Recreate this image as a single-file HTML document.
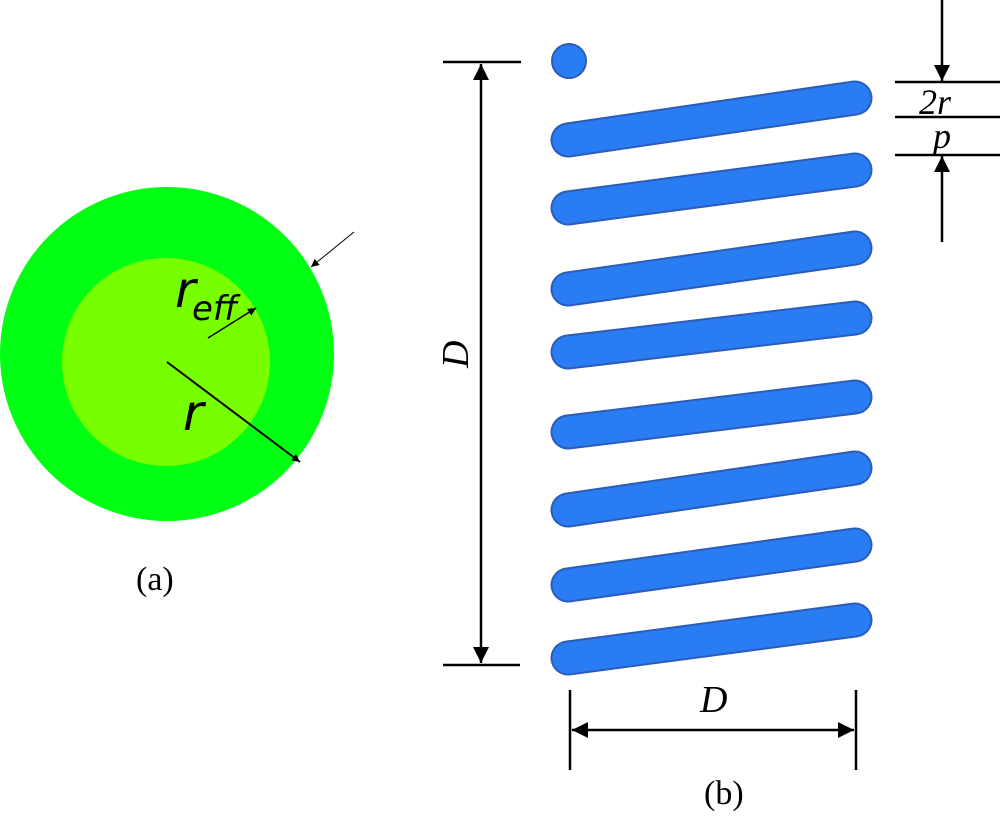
<!DOCTYPE html>
<html><head><style>body{margin:0;background:#fff}</style></head><body>
<svg width="1000" height="817" viewBox="0 0 1000 817" xmlns="http://www.w3.org/2000/svg" font-family="Liberation Serif, serif">
<defs><marker id="a" viewBox="0 0 10 10" refX="10" refY="5" markerWidth="10" markerHeight="8" orient="auto-start-reverse" markerUnits="userSpaceOnUse"><path d="M0,0L10,5L0,10z" fill="#000"/></marker>
<marker id="b" viewBox="0 0 10 10" refX="10" refY="5" markerWidth="28" markerHeight="16" orient="auto-start-reverse" markerUnits="userSpaceOnUse"><path d="M0,0L10,5L0,10z" fill="#000"/></marker></defs>
<circle cx="167" cy="354" r="167" fill="#00ff12"/>
<circle cx="166" cy="362" r="104" fill="#77ff00"/>
<line x1="167" y1="362" x2="300" y2="462" stroke="#000" stroke-width="2" marker-end="url(#a)"/>
<line x1="208" y1="338" x2="256" y2="308" stroke="#000" stroke-width="1.5" marker-end="url(#a)"/>
<line x1="354" y1="232" x2="311" y2="267" stroke="#000" stroke-width="1" marker-end="url(#a)"/>
<text x="175" y="307" font-family="DejaVu Sans, sans-serif" font-style="italic" font-size="50">r</text>
<text x="192" y="320" font-family="DejaVu Sans, sans-serif" font-style="italic" font-size="34">eff</text>
<text x="183" y="430" font-family="DejaVu Sans, sans-serif" font-style="italic" font-size="50">r</text>
<text x="136" y="590" font-size="34">(a)</text>
<g stroke="#2b5db8" stroke-width="35" stroke-linecap="round">
<line x1="568" y1="140" x2="855" y2="98"/><line x1="568" y1="208" x2="855" y2="170"/>
<line x1="568" y1="289" x2="855" y2="248"/><line x1="568" y1="352" x2="855" y2="318"/>
<line x1="568" y1="432" x2="855" y2="397"/><line x1="568" y1="510" x2="855" y2="468"/>
<line x1="568" y1="585" x2="855" y2="545"/><line x1="568" y1="658" x2="855" y2="620"/>
</g>
<g stroke="#2a7cf2" stroke-width="31" stroke-linecap="round">
<line x1="568" y1="140" x2="855" y2="98"/><line x1="568" y1="208" x2="855" y2="170"/>
<line x1="568" y1="289" x2="855" y2="248"/><line x1="568" y1="352" x2="855" y2="318"/>
<line x1="568" y1="432" x2="855" y2="397"/><line x1="568" y1="510" x2="855" y2="468"/>
<line x1="568" y1="585" x2="855" y2="545"/><line x1="568" y1="658" x2="855" y2="620"/>
</g>
<circle cx="569" cy="61" r="17" fill="#2a7cf2" stroke="#2b5db8" stroke-width="2"/>
<g stroke="#000" stroke-width="2.5">
<line x1="443" y1="62" x2="521" y2="62"/><line x1="443" y1="665" x2="520" y2="665"/>
<line x1="481" y1="64" x2="481" y2="663" marker-start="url(#b)" marker-end="url(#b)"/>
<line x1="570" y1="690" x2="570" y2="770"/><line x1="856" y1="690" x2="856" y2="770"/>
<line x1="572" y1="730" x2="854" y2="730" marker-start="url(#b)" marker-end="url(#b)"/>
<line x1="895" y1="82" x2="1000" y2="82"/><line x1="895" y1="117" x2="1000" y2="117"/><line x1="895" y1="155" x2="1000" y2="155"/>
<line x1="942" y1="0" x2="942" y2="81" marker-end="url(#b)"/>
<line x1="942" y1="242" x2="942" y2="156" marker-end="url(#b)"/>
</g>
<text transform="translate(468,368) rotate(-90)" font-style="italic" font-size="38">D</text>
<text x="700" y="712" font-style="italic" font-size="38">D</text>
<text x="919" y="114" font-style="italic" font-size="36">2r</text>
<text x="933" y="148" font-style="italic" font-size="36">p</text>
<text x="704" y="804" font-size="34">(b)</text>
</svg>
</body></html>
